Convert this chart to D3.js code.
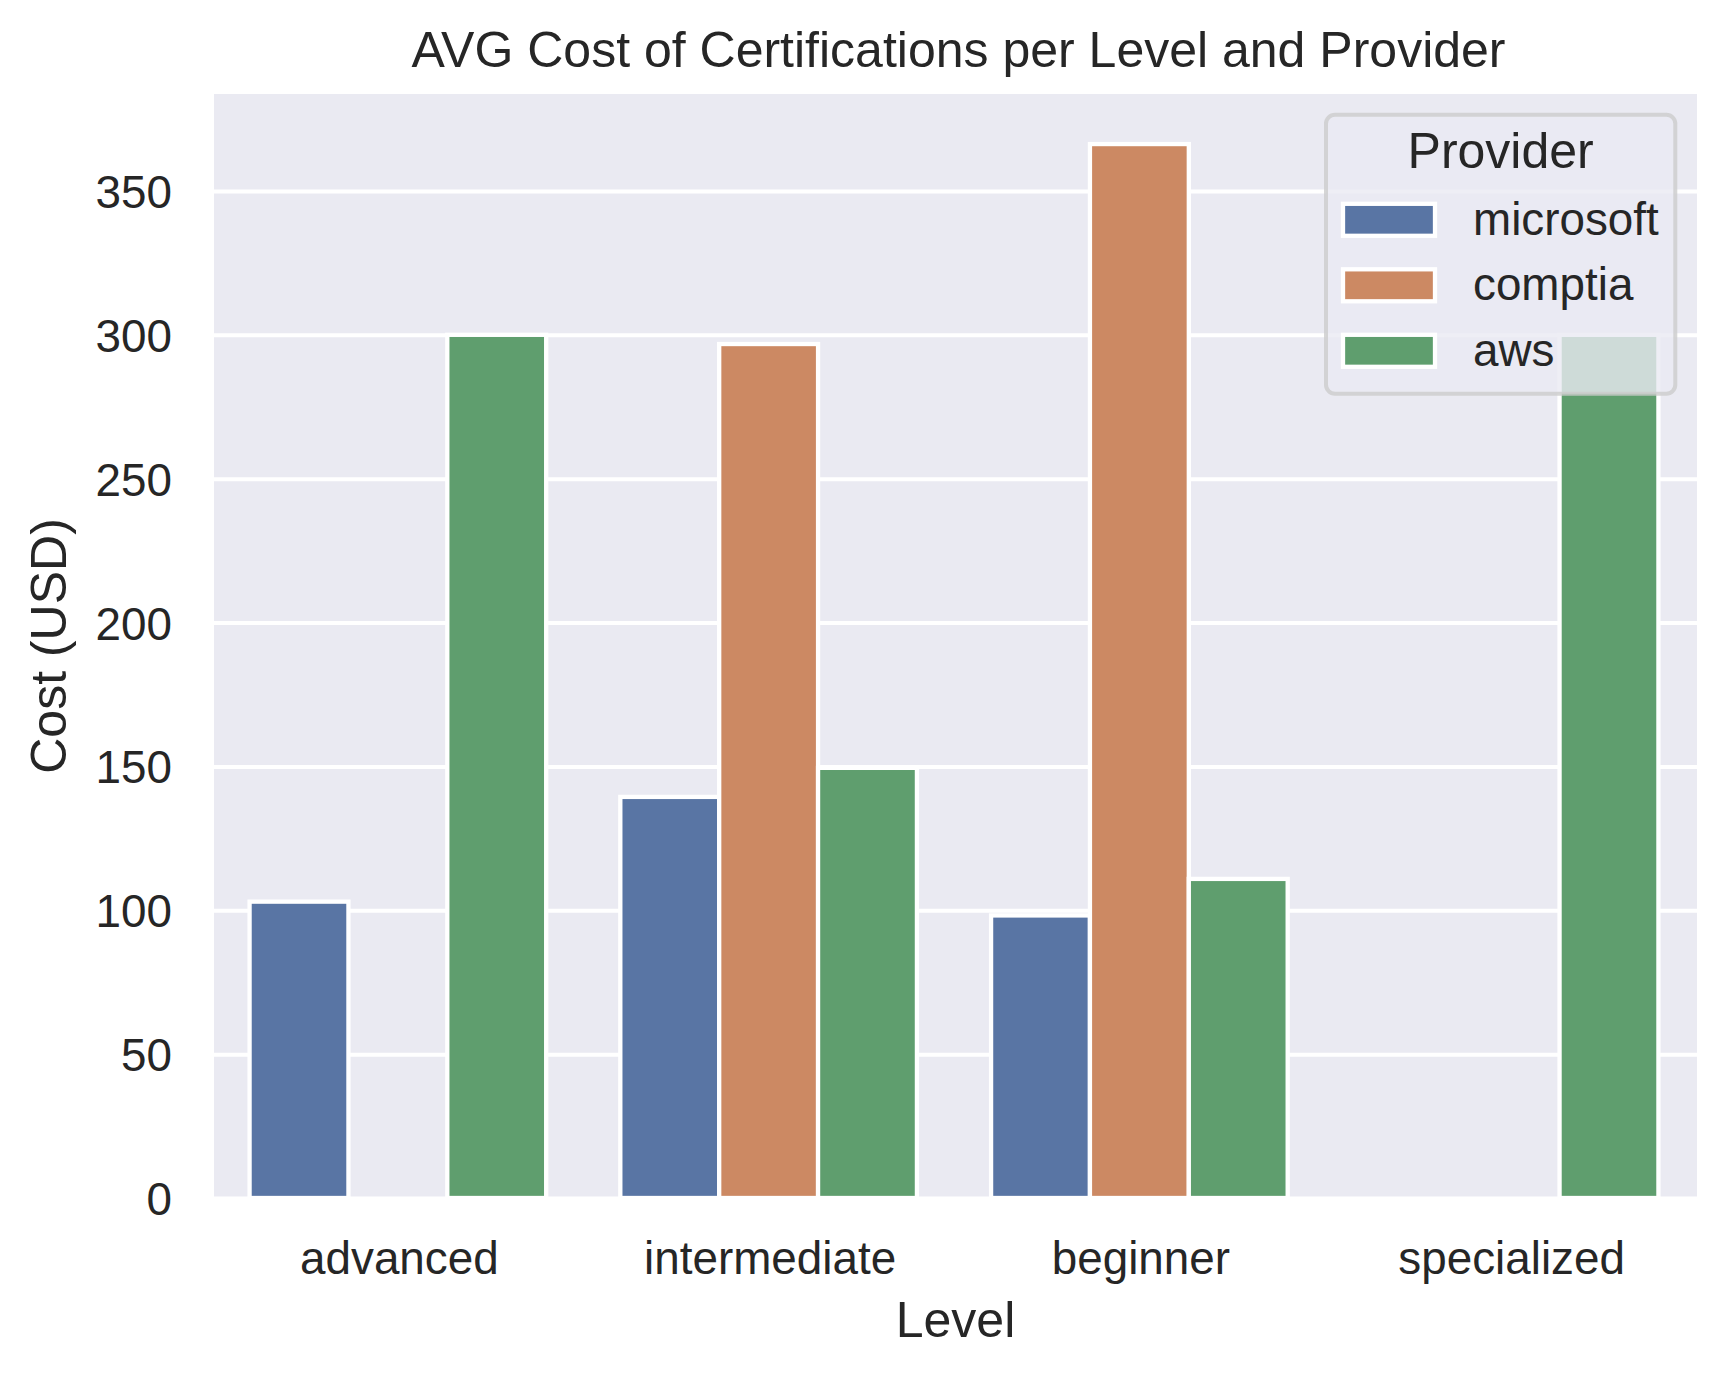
<!DOCTYPE html>
<html>
<head>
<meta charset="utf-8">
<script src="https://cdn.jsdelivr.net/npm/d3@7"></script>
<style>
  html, body { margin: 0; padding: 0; background: #ffffff; }
  svg { display: block; }
  text { font-family: "Liberation Sans", Arial, sans-serif; fill: #262626; }
</style>
</head>
<body>
<svg id="chart" width="1728" height="1376"></svg>
<script>
// ---- data ----
const levels = ["advanced", "intermediate", "beginner", "specialized"];
const providers = ["microsoft", "comptia", "aws"];
const microsoftCost = [103, 139.4, 98.2, null];
const comptiaCost = [null, 296.8, 366.3, null];
const awsCost = [300, 149.5, 110.9, 300];
const yTicks = [0, 50, 100, 150, 200, 250, 300, 350];
const providerColors = ["#5975a4", "#cc8963", "#5f9e6e"];
const titleText = "AVG Cost of Certifications per Level and Provider";
const xLabel = "Level";
const yLabel = "Cost (USD)";
const legendTitle = "Provider";

const seriesValues = { microsoft: microsoftCost, comptia: comptiaCost, aws: awsCost };

// ---- layout ----
const W = 1728, H = 1376;
const plot = { left: 214, right: 1697, top: 94, bottom: 1198 };
const tickFont = 45.8, labelFont = 50;

const svg = d3.select("#chart");

const x = d3.scaleBand().domain(levels).range([plot.left, plot.right])
  .paddingInner(0.2).paddingOuter(0.1);
const xSub = d3.scaleBand().domain(providers).range([0, x.bandwidth()]).padding(0);
const y = d3.scaleLinear().domain([0, 383.7]).range([plot.bottom, plot.top]);
const color = d3.scaleOrdinal().domain(providers).range(providerColors);

// background
svg.append("rect")
  .attr("x", plot.left).attr("y", plot.top)
  .attr("width", plot.right - plot.left).attr("height", plot.bottom - plot.top)
  .attr("fill", "#eaeaf2");

// grid lines via axis
const yAxis = d3.axisLeft(y).tickValues(yTicks).tickSize(-(plot.right - plot.left)).tickPadding(0);
const gy = svg.append("g").attr("transform", `translate(${plot.left},0)`).call(yAxis);
gy.select(".domain").remove();
gy.selectAll(".tick line").attr("stroke", "#ffffff").attr("stroke-width", 4);
gy.selectAll(".tick text").remove();

svg.append("clipPath").attr("id", "plotclip").append("rect")
  .attr("x", plot.left).attr("y", plot.top)
  .attr("width", plot.right - plot.left).attr("height", plot.bottom - plot.top);

// bars (drawn in hue order like seaborn)
const barG = svg.append("g").attr("clip-path", "url(#plotclip)");
providers.forEach(p => {
  const rows = levels.map((lv, i) => ({ level: lv, provider: p, value: seriesValues[p][i] }))
    .filter(d => d.value !== null);
  barG.selectAll(null).data(rows).enter().append("rect")
    .attr("x", d => x(d.level) + xSub(d.provider) - 1.5)
    .attr("y", d => y(d.value))
    .attr("width", xSub.bandwidth())
    .attr("height", d => y(0) - y(d.value))
    .attr("fill", d => color(d.provider))
    .attr("stroke", "#ffffff")
    .attr("stroke-width", 4.3);
});

// y tick labels
svg.append("g").selectAll("text").data(yTicks).enter().append("text")
  .attr("x", 172).attr("y", d => y(d) + 17)
  .attr("text-anchor", "end")
  .attr("font-size", tickFont)
  .text(d => d);

// x tick labels
const xAxis = d3.axisBottom(x).tickSize(0).tickPadding(0);
const gx = svg.append("g").attr("transform", `translate(0,${plot.bottom})`).call(xAxis);
gx.select(".domain").remove();
gx.selectAll(".tick text")
  .attr("y", 75.5).attr("dy", null)
  .attr("font-size", tickFont)
  .attr("font-family", "Liberation Sans, Arial, sans-serif")
  .attr("fill", "#262626");

// axis labels and title
svg.append("text")
  .attr("x", (plot.left + plot.right) / 2).attr("y", 1337)
  .attr("text-anchor", "middle").attr("font-size", labelFont)
  .text(xLabel);

svg.append("text")
  .attr("transform", `translate(66,${(plot.top + plot.bottom) / 2}) rotate(-90)`)
  .attr("text-anchor", "middle").attr("font-size", labelFont)
  .text(yLabel);

svg.append("text")
  .attr("x", (plot.left + plot.right) / 2 + 3).attr("y", 67)
  .attr("text-anchor", "middle").attr("font-size", labelFont)
  .text(titleText);

// legend
const lg = { x: 1326, y: 114.7, w: 349.3, h: 279 };
const legend = svg.append("g");
legend.append("rect")
  .attr("x", lg.x).attr("y", lg.y).attr("width", lg.w).attr("height", lg.h)
  .attr("rx", 9).attr("ry", 9)
  .attr("fill", "#eaeaf2").attr("fill-opacity", 0.8)
  .attr("stroke", "#cccccc").attr("stroke-opacity", 0.8).attr("stroke-width", 4);
legend.append("text")
  .attr("x", lg.x + lg.w / 2).attr("y", 168.3)
  .attr("text-anchor", "middle").attr("font-size", labelFont)
  .text(legendTitle);
const items = legend.selectAll("g.item").data(providers).enter().append("g")
  .attr("transform", (d, i) => `translate(0,${219.8 + i * 65.5})`);
items.append("rect")
  .attr("x", 1343).attr("y", -16).attr("width", 92).attr("height", 32)
  .attr("fill", d => color(d)).attr("stroke", "#ffffff").attr("stroke-width", 4.3);
items.append("text")
  .attr("x", 1473).attr("y", 15)
  .attr("font-size", tickFont)
  .text(d => d);
</script>
</body>
</html>
